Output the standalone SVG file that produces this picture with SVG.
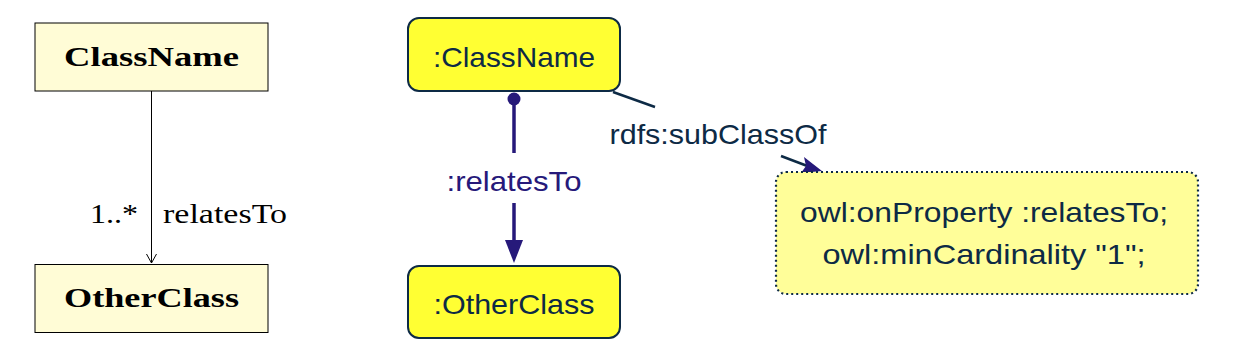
<svg xmlns="http://www.w3.org/2000/svg" width="1260" height="355" viewBox="0 0 1260 355">
<style>
.uml{fill:#fffcd6;stroke:#000;stroke-width:1}
.umlt{font-family:"Liberation Serif",serif;font-size:27px;font-weight:bold;fill:#000;text-anchor:middle}
.seri{font-family:"Liberation Serif",serif;font-size:27px;fill:#000}
.res{fill:#ffff33;stroke:#0d2a45;stroke-width:2}
.rest{fill:#fffe99;stroke:#0d2a45;stroke-width:2.2;stroke-dasharray:2 3}
.sans{font-family:"Liberation Sans",sans-serif;font-size:28px;fill:#0d2a45;text-anchor:middle}
.blue{stroke:#26197a;stroke-width:3.5;fill:none}
</style>
<defs>
<marker id="open" markerWidth="12" markerHeight="12" refX="10" refY="6" orient="auto" markerUnits="userSpaceOnUse">
<path d="M1,1 L10,6 L1,11" fill="none" stroke="#000" stroke-width="1"/>
</marker>
</defs>
<g id="connectors">
<line x1="151.5" y1="91" x2="151.5" y2="263" stroke="#000" stroke-width="1" marker-end="url(#open)"/>
<text class="seri" x="138" y="223" text-anchor="end" textLength="48" lengthAdjust="spacingAndGlyphs">1..*</text>
<text class="seri" x="163" y="223" textLength="124" lengthAdjust="spacingAndGlyphs">relatesTo</text>
<circle cx="514" cy="99" r="6.5" fill="#26197a"/>
<line class="blue" x1="514" y1="99" x2="514" y2="153"/>
<line class="blue" x1="514" y1="203" x2="514" y2="242"/>
<path d="M505,240 L523,240 L514,263 Z" fill="#26197a"/>
<text class="sans" x="514" y="191" style="fill:#26197a" textLength="135" lengthAdjust="spacingAndGlyphs">:relatesTo</text>
<line x1="613" y1="92" x2="655" y2="107" stroke="#0d2a45" stroke-width="2.5"/>
<text class="sans" x="718" y="144" textLength="217" lengthAdjust="spacingAndGlyphs">rdfs:subClassOf</text>
<line x1="781" y1="156" x2="810" y2="167" stroke="#0d2a45" stroke-width="2.5"/>
<path d="M822,171 L801,173 L806,166 L804,157 Z" fill="#26197a"/>
</g>
<g id="uml-classname">
<rect class="uml" x="35" y="23" width="233" height="68"/>
<text class="umlt" x="151.5" y="66" textLength="175" lengthAdjust="spacingAndGlyphs">ClassName</text>
</g>
<g id="uml-otherclass">
<rect class="uml" x="35" y="264.5" width="233" height="68"/>
<text class="umlt" x="151.5" y="307" textLength="175" lengthAdjust="spacingAndGlyphs">OtherClass</text>
</g>
<g id="rdf-classname">
<rect class="res" x="408" y="18" width="212" height="73" rx="11"/>
<text class="sans" x="514" y="67" textLength="162" lengthAdjust="spacingAndGlyphs">:ClassName</text>
</g>
<g id="rdf-otherclass">
<rect class="res" x="408" y="266" width="212" height="72" rx="11"/>
<text class="sans" x="514" y="314" textLength="161" lengthAdjust="spacingAndGlyphs">:OtherClass</text>
</g>
<g id="restriction">
<rect class="rest" x="776" y="172" width="422" height="122" rx="10"/>
<text class="sans" x="984" y="222" textLength="368" lengthAdjust="spacingAndGlyphs">owl:onProperty :relatesTo;</text>
<text class="sans" x="984" y="264" textLength="323" lengthAdjust="spacingAndGlyphs">owl:minCardinality "1";</text>
</g>
</svg>
